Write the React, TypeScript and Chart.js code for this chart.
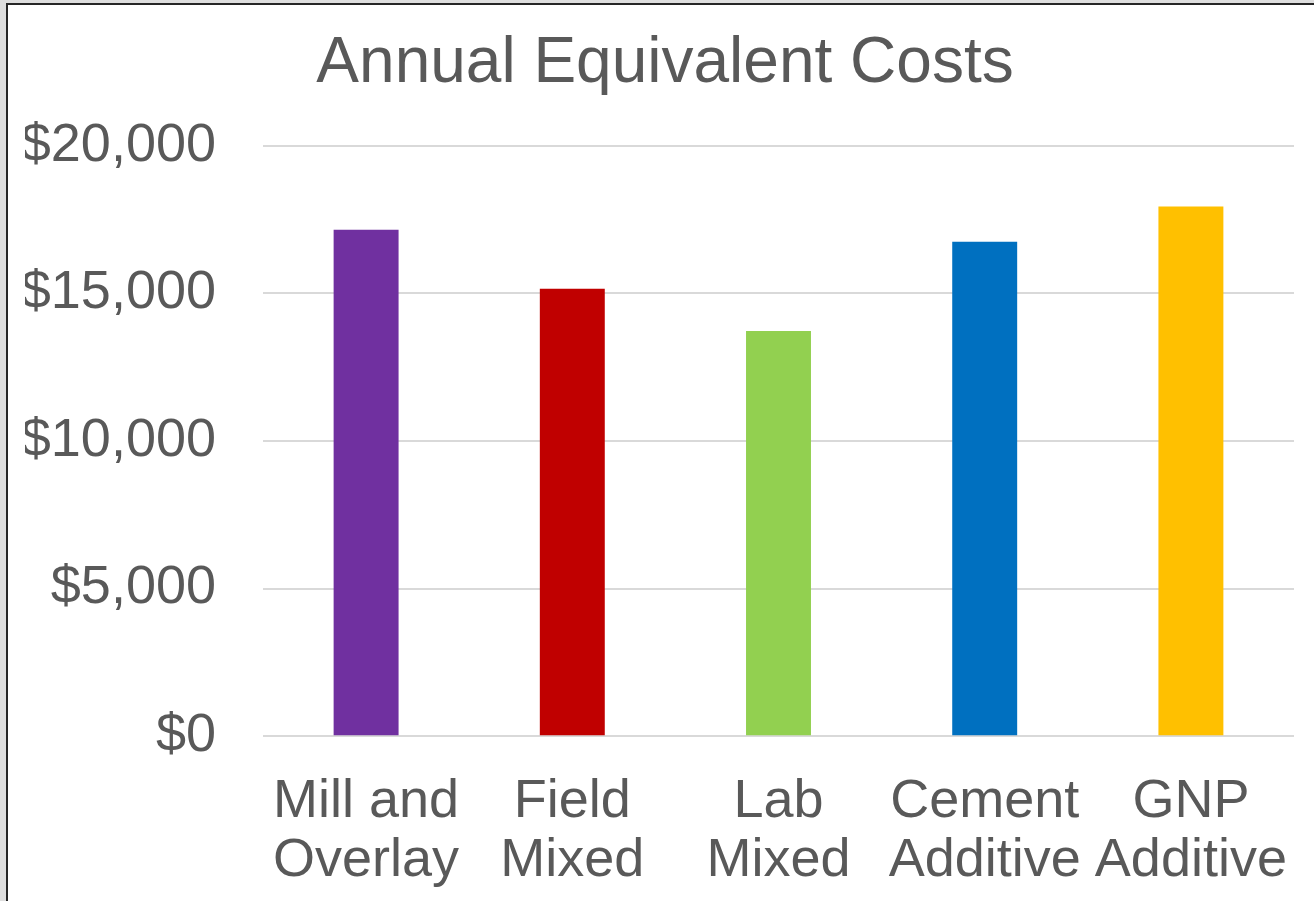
import React, { useEffect, useRef } from "react";
import { Chart, registerables } from "chart.js";

Chart.register(...registerables);

const categories: string[][] = [
  ["Mill and", "Overlay"],
  ["Field", "Mixed"],
  ["Lab", "Mixed"],
  ["Cement", "Additive"],
  ["GNP", "Additive"],
];
const costs: number[] = [17160, 15160, 13730, 16750, 17940];
const barColors: string[] = ["#7030A0", "#C00000", "#92D050", "#0070C0", "#FFC000"];
const yTicks: number[] = [0, 5000, 10000, 15000, 20000];
const chartTitle = "Annual Equivalent Costs";

const titleShift = {
  id: "titleShift",
  afterLayout(chart: any) {
    if (chart.titleBlock) chart.titleBlock.left += 11;
  },
};

export default function App() {
  const ref = useRef<HTMLCanvasElement | null>(null);
  useEffect(() => {
    if (!ref.current) return;
    const chart = new Chart(ref.current, {
      type: "bar",
      data: {
        labels: categories,
        datasets: [
          {
            data: costs,
            backgroundColor: barColors,
            borderWidth: 0,
            barPercentage: 0.315,
            categoryPercentage: 1,
          },
        ],
      },
      plugins: [titleShift],
      options: {
        animation: false,
        responsive: false,
        maintainAspectRatio: false,
        layout: { padding: { left: 25, right: 20, top: 26, bottom: 0 } },
        plugins: {
          legend: { display: false },
          tooltip: { enabled: false },
          title: {
            display: true,
            text: chartTitle,
            color: "#595959",
            font: { family: "Liberation Sans", size: 64, weight: "normal" },
            padding: { top: 0, bottom: 43 },
          },
        },
        scales: {
          x: {
            afterFit: (axis: any) => {
              axis.paddingLeft = 0;
              axis.paddingRight = 0;
            },
            grid: { display: false, drawTicks: false },
            border: { display: false },
            ticks: {
              color: "#595959",
              font: { family: "Liberation Sans", size: 54, lineHeight: 1.1 },
              padding: 36,
              maxRotation: 0,
              autoSkip: false,
            },
          },
          y: {
            min: 0,
            max: 20000,
            afterBuildTicks: (axis: any) => {
              axis.ticks = yTicks.map((v) => ({ value: v }));
            },
            afterFit: (axis: any) => {
              axis.width = 238;
            },
            grid: { color: "#d9d9d9", lineWidth: 2, drawTicks: false },
            border: { display: false },
            ticks: {
              color: "#595959",
              font: { family: "Liberation Sans", size: 54 },
              padding: 47,
              callback: (v: any) => "$" + Number(v).toLocaleString("en-US"),
            },
          },
        },
      },
    });
    return () => chart.destroy();
  }, []);
  return (
    <div style={{ position: "fixed", left: 0, top: 0, width: 1314, height: 901, background: "#dedede", overflow: "hidden" }}>
      <div
        style={{
          position: "absolute",
          left: 6,
          top: 3,
          width: 1330,
          height: 940,
          border: "2px solid #262626",
          background: "#ffffff",
        }}
      />
      <canvas ref={ref} width={1314} height={927} style={{ position: "absolute", left: 0, top: 0, width: 1314, height: 927 }} />
    </div>
  );
}
